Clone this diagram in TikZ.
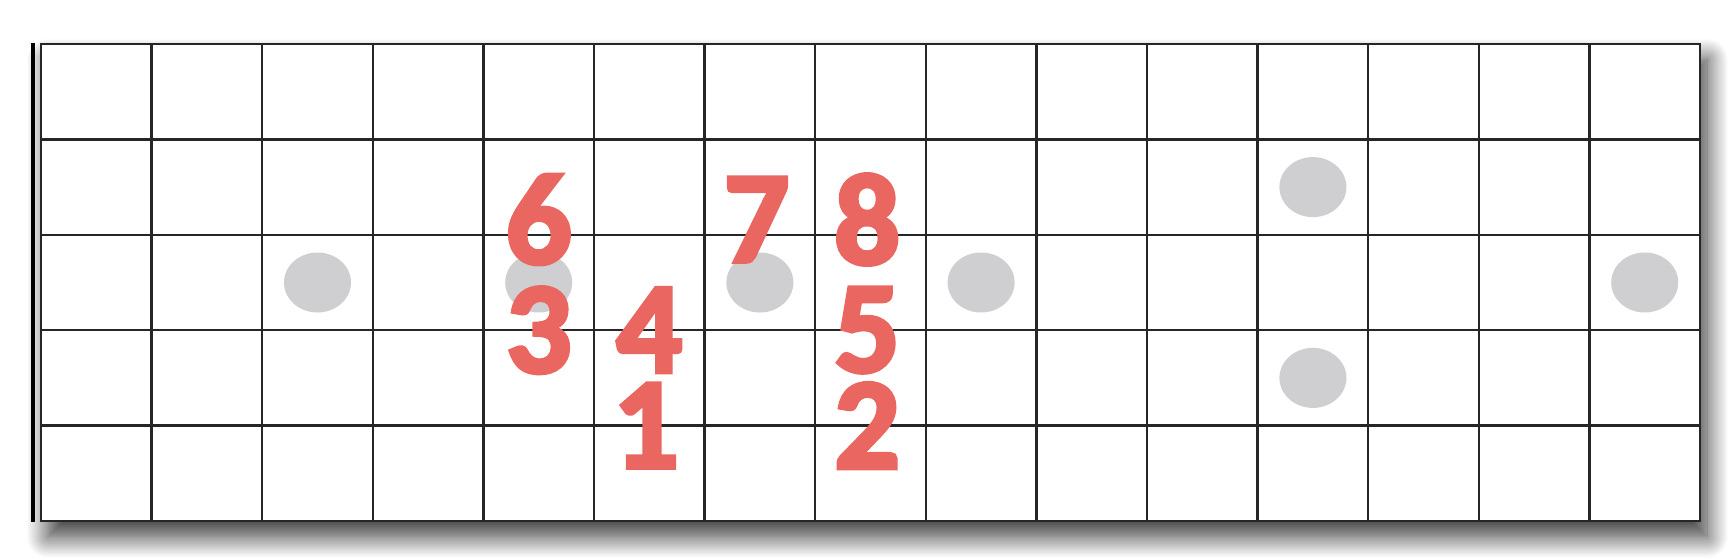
\documentclass[tikz,border=0pt]{standalone}
\usepackage{fontspec}
\setmainfont{Carlito}
\newfontfamily\notefont{Carlito}[BoldFont={Carlito Bold}, BoldFeatures={FakeBold=3.2}]
\usepackage{tikz}
\usetikzlibrary{shapes.geometric, shadows.blur}
\definecolor{notered}{RGB}{234,102,96}
\definecolor{markgray}{RGB}{207,206,209}
\tikzstyle{board} = [rectangle, minimum width=33.18cm, minimum height=9.54cm, inner sep=0pt, draw=black!85, line width=1.3pt, fill=white, blur shadow={shadow xshift=4pt, shadow yshift=-9pt, shadow blur radius=12pt, shadow blur steps=20, shadow opacity=80}]
\tikzstyle{fret} = [line width=1.3pt, draw=black!85, xstep=2.212cm, ystep=1.908cm]
\tikzstyle{nut} = [line width=2.4pt, draw=black]
\tikzstyle{marker} = [ellipse, minimum width=1.34cm, minimum height=1.2cm, inner sep=0pt, fill=markgray]
\tikzstyle{note} = [inner sep=0pt, text=notered, font=\notefont\fontsize{74}{80}\selectfont\bfseries]

\begin{document}
\begin{tikzpicture}[x=2.212cm, y=1.908cm, node distance=2.212cm]
	\useasboundingbox (-0.82cm,-0.74cm) rectangle (33.78cm,10.42cm);
	\node (board) [board] at (7.5,2.5) {};
	\draw [fret] (0,0) grid (15,5);
	\draw [nut] ([xshift=-0.14cm]board.north west) -- ([xshift=-0.14cm]board.south west);
	% fret markers
	\node (mark3) [marker] at (2.5,2.5) {};
	\node (mark5) [marker] at (4.5,2.5) {};
	\node (mark7) [marker] at (6.5,2.5) {};
	\node (mark9) [marker] at (8.5,2.5) {};
	\node (mark12a) [marker] at (11.5,3.5) {};
	\node (mark12b) [marker] at (11.5,1.5) {};
	\node (mark15) [marker] at (14.5,2.5) {};
	% scale degrees
	\node (n3) [note] at (4.5,2) {3};
	\node (n4) [note, right of=n3] {4};
	\node (n1) [note] at (5.47,1) {1};
	\node (n6) [note] at (4.5,3.16) {6};
	\node (n7) [note] at (6.47,3.16) {7};
	\node (n8) [note, right of=n7] {8};
	\node (n5) [note, below of=n8] {5};
	\node (n2) [note] at (7.47,1) {2};
\end{tikzpicture}
\end{document}
